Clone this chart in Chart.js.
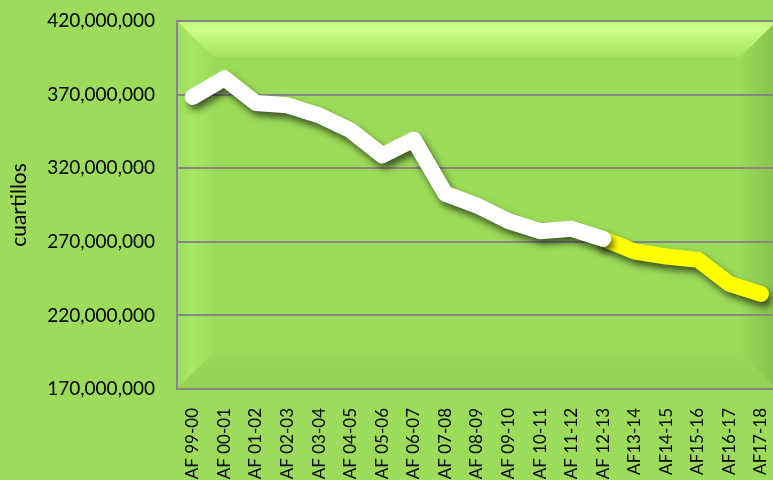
<!DOCTYPE html>
<html>
<head>
<meta charset="utf-8">
<script src="https://cdn.jsdelivr.net/npm/chart.js@4"></script>
<style>
  html, body { margin: 0; padding: 0; overflow: hidden; background: #9ddc5a; }
  #wrap { width: 778px; height: 480px; position: relative; }
</style>
</head>
<body>
<div id="wrap"><canvas id="myChart"></canvas></div>
<script>
/* Datos */
const categories = ['AF 99-00', 'AF 00-01', 'AF 01-02', 'AF 02-03', 'AF 03-04', 'AF 04-05', 'AF 05-06',
  'AF 06-07', 'AF 07-08', 'AF 08-09', 'AF 09-10', 'AF 10-11', 'AF 11-12', 'AF 12-13',
  'AF13-14', 'AF14-15', 'AF15-16', 'AF16-17', 'AF17-18'];

// serie observada (blanca)
const observados = [368400000, 381100000, 364300000, 362700000, 355900000, 345700000, 328700000,
  339400000, 302600000, 294700000, 284000000, 277200000, 278800000, 272000000,
  null, null, null, null, null];

// serie proyectada (amarilla)
const proyectados = [null, null, null, null, null, null, null,
  null, null, null, null, null, null, 272000000,
  263400000, 260000000, 257800000, 241400000, 234600000];

const yTicks = [170000000, 220000000, 270000000, 320000000, 370000000, 420000000];

const FONT = 'Lato, "Open Sans", sans-serif';

/* fondo con bisel del area de trazado */
const bevelPlugin = {
  id: 'bevel',
  beforeDraw(chart) {
    const { ctx, chartArea: a } = chart;
    const d = 36;
    ctx.save();
    ctx.fillStyle = '#9ddc5a';
    ctx.fillRect(0, 0, chart.width, chart.height);

    ctx.fillStyle = '#9cdb58';
    ctx.fillRect(a.left, a.top, a.right - a.left, a.bottom - a.top);

    function quad(pts, grad) {
      ctx.beginPath();
      ctx.moveTo(pts[0][0], pts[0][1]);
      for (let i = 1; i < pts.length; i++) ctx.lineTo(pts[i][0], pts[i][1]);
      ctx.closePath();
      ctx.fillStyle = grad;
      ctx.fill();
    }
    let g = ctx.createLinearGradient(0, a.top, 0, a.top + d);
    g.addColorStop(0, '#bff57a');
    g.addColorStop(0.25, '#ccff86');
    g.addColorStop(1, '#a2e25c');
    quad([[a.left, a.top], [a.right, a.top], [a.right - d, a.top + d], [a.left + d, a.top + d]], g);

    g = ctx.createLinearGradient(a.left, 0, a.left + d, 0);
    g.addColorStop(0, '#9ddd5a');
    g.addColorStop(0.4, '#a5e863');
    g.addColorStop(1, '#9edd5b');
    quad([[a.left, a.top], [a.left + d, a.top + d], [a.left + d, a.bottom - d], [a.left, a.bottom]], g);

    g = ctx.createLinearGradient(a.right - d, 0, a.right, 0);
    g.addColorStop(0, '#9ad858');
    g.addColorStop(1, '#86c24b');
    quad([[a.right, a.top], [a.right, a.bottom], [a.right - d, a.bottom - d], [a.right - d, a.top + d]], g);

    g = ctx.createLinearGradient(0, a.bottom - d, 0, a.bottom);
    g.addColorStop(0, '#9ad858');
    g.addColorStop(1, '#93d053');
    quad([[a.left, a.bottom], [a.right, a.bottom], [a.right - d, a.bottom - d], [a.left + d, a.bottom - d]], g);
    ctx.restore();
  }
};

/* sombra de las lineas */
const shadowPlugin = {
  id: 'lineShadow',
  beforeDatasetDraw(chart) {
    const ctx = chart.ctx;
    ctx.save();
    ctx.shadowColor = 'rgba(0, 0, 0, 0.6)';
    ctx.shadowBlur = 7;
    ctx.shadowOffsetX = 3;
    ctx.shadowOffsetY = 5;
  },
  afterDatasetDraw(chart) {
    chart.ctx.restore();
  }
};

function initChart() {
  const ctx = document.getElementById('myChart').getContext('2d');

  // eslint-disable-next-line no-unused-vars
  const myChart = new Chart(ctx, {
    type: 'line',
    data: {
      labels: categories,
      datasets: [{
        label: 'Observado',
        data: observados,
        borderColor: '#ffffff',
        borderWidth: 16,
        borderCapStyle: 'round',
        borderJoinStyle: 'round',
        pointRadius: 0,
        tension: 0,
        spanGaps: false,
        order: 1
      },
      {
        label: 'Proyectado',
        data: proyectados,
        borderColor: '#ffff00',
        borderWidth: 16,
        borderCapStyle: 'round',
        borderJoinStyle: 'round',
        pointRadius: 0,
        tension: 0,
        spanGaps: false,
        order: 2
      }]
    },
    options: {
      responsive: true,
      maintainAspectRatio: false,
      animation: false,
      layout: { padding: { top: 21, left: 0, right: 0, bottom: 0 } },
      plugins: {
        legend: { display: false },
        tooltip: { enabled: false }
      },
      scales: {
        x: {
          offset: true,
          grid: { display: true, drawOnChartArea: false, drawTicks: true, tickLength: 19, tickColor: 'rgba(0,0,0,0)', color: 'rgba(0,0,0,0)' },
          border: { color: '#868686', width: 2 },
          ticks: {
            color: '#000',
            font: { family: FONT, size: 17, lineHeight: 1 },
            minRotation: 90,
            maxRotation: 90,
            autoSkip: false,
            padding: 0
          },
          afterFit(scale) { scale.height = 91; }
        },
        y: {
          min: 170000000,
          max: 420000000,
          afterBuildTicks(scale) { scale.ticks = yTicks.map(v => ({ value: v })); },
          grid: { color: '#868686', lineWidth: 2, drawTicks: true, tickLength: 20, tickColor: 'rgba(0,0,0,0)' },
          border: { color: '#868686', width: 2 },
          ticks: {
            color: '#000',
            font: { family: FONT, size: 19 },
            padding: 2,
            callback: v => v.toLocaleString('en-US')
          },
          title: {
            display: true,
            text: 'cuartillos',
            color: '#000',
            font: { family: FONT, size: 21 },
            padding: { top: 7, bottom: 0 }
          },
          afterFit(scale) { scale.width = 177; }
        }
      }
    },
    plugins: [bevelPlugin, shadowPlugin]
  });
}

const app = () => {
  initChart();
};

app();
</script>
</body>
</html>
